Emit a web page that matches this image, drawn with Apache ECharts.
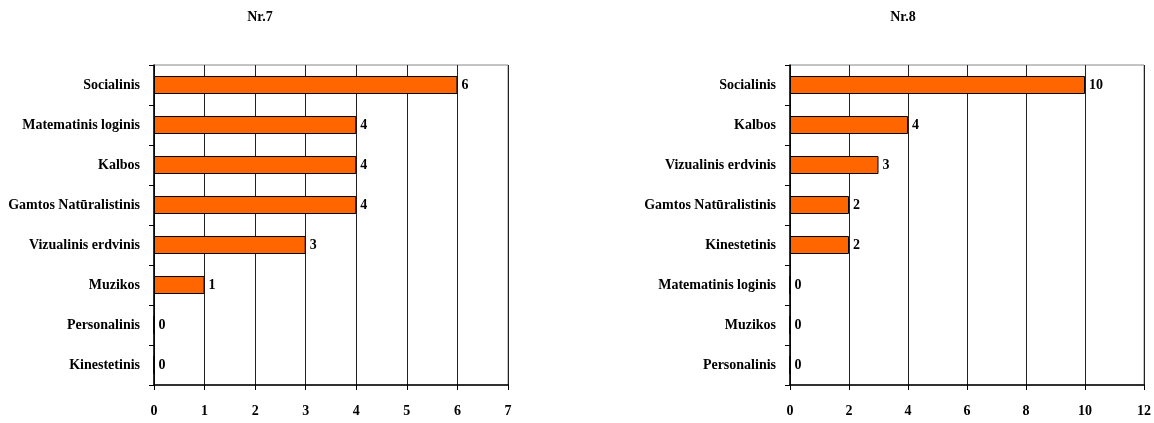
<!DOCTYPE html>
<html><head><meta charset="utf-8">
<script src="https://cdn.jsdelivr.net/npm/echarts@6/dist/echarts.min.js"></script>
<style>html,body{margin:0;padding:0;background:#fff}#c{width:1154px;height:423px}</style>
</head><body><div id="c"></div>
<script>
const title1 = 'Nr.7';
const cats1 = ['Socialinis','Matematinis loginis','Kalbos','Gamtos Natūralistinis','Vizualinis erdvinis','Muzikos','Personalinis','Kinestetinis'];
const vals1 = [6,4,4,4,3,1,0,0];
const title2 = 'Nr.8';
const cats2 = ['Socialinis','Kalbos','Vizualinis erdvinis','Gamtos Natūralistinis','Kinestetinis','Matematinis loginis','Muzikos','Personalinis'];
const vals2 = [10,4,3,2,2,0,0,0];

const font = '"Liberation Serif","Times New Roman",serif';
const txt = {fontFamily: font, fontWeight: 'bold', fontSize: 14, color: '#000'};
function xAxis(gi, max, interval){
  return {type:'value', gridIndex:gi, min:0, max:max, interval:interval,
    axisLine:{show:true, lineStyle:{color:'#000', width:1.5}},
    axisTick:{show:true, length:5, lineStyle:{color:'#000'}},
    axisLabel:Object.assign({margin:19}, txt),
    splitLine:{show:true, lineStyle:{color:'#222', width:1}}};
}
function yAxis(gi, cats){
  return {type:'category', gridIndex:gi, data:cats, inverse:true,
    axisLine:{show:true, lineStyle:{color:'#000', width:1.5}},
    axisTick:{show:true, length:5, lineStyle:{color:'#000'}},
    axisLabel:Object.assign({margin:14}, txt),
    splitLine:{show:false}};
}
function bar(i, vals){
  return {type:'bar', xAxisIndex:i, yAxisIndex:i, data:vals, barWidth:'45%',
    itemStyle:{color:'#FF6600', borderColor:'#000', borderWidth:1},
    label:{show:true, position:'right', distance:4, fontFamily:font, fontWeight:'bold', fontSize:14, color:'#000'},
    animation:false};
}
const chart = echarts.init(document.getElementById('c'), null, {renderer:'canvas'});
chart.setOption({
  animation:false,
  title:[
    {text:title1, left:255, top:5, textAlign:'center', textStyle:{fontFamily:font, fontWeight:'bold', fontSize:14, color:'#000'}},
    {text:title2, left:898, top:5, textAlign:'center', textStyle:{fontFamily:font, fontWeight:'bold', fontSize:14, color:'#000'}}
  ],
  grid:[
    {left:154, right:646, top:65, bottom:38, show:true, borderColor:'#888', borderWidth:1, backgroundColor:'transparent'},
    {left:790, right:6, top:65, bottom:38, show:true, borderColor:'#888', borderWidth:1, backgroundColor:'transparent'}
  ],
  xAxis:[xAxis(0,7,1), xAxis(1,12,2)],
  yAxis:[yAxis(0,cats1), yAxis(1,cats2)],
  series:[bar(0,vals1), bar(1,vals2)]
});
</script></body></html>
